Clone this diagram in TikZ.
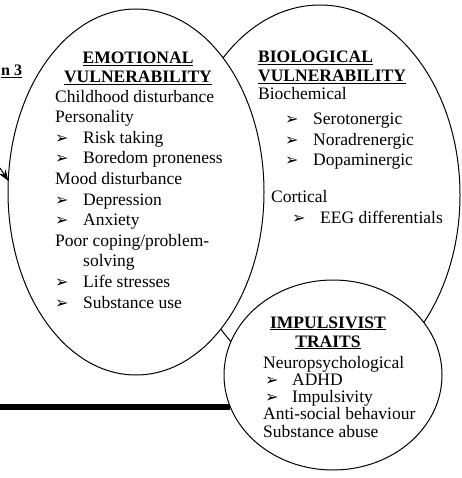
\documentclass[tikz,border=0pt]{standalone}
\usepackage{fontspec}
\setmainfont{Liberation Serif}
\newfontfamily\dingfont{DejaVu Sans}
\usetikzlibrary{shapes.geometric,arrows.meta}

% pointer bullet for the lists
\newcommand{\ptr}{{\dingfont\fontsize{16}{16}\selectfont ➢}}
\newcommand{\itm}[1]{\makebox[28pt][l]{\ptr}#1}

\begin{document}
\begin{tikzpicture}[x=1pt, y=-1pt, >={Stealth[length=11pt,width=8pt]},
    blob/.style={ellipse, draw, line width=1pt, fill=white, inner sep=0pt, outer sep=0pt},
    head/.style={font=\bfseries\fontsize{17.5}{19}\selectfont, inner sep=0pt, anchor=base},
    body/.style={font=\fontsize{17.5}{20.6}\selectfont, align=left, inner sep=0pt, anchor=base west}]
    \useasboundingbox (0,0) rectangle (461,478);

    % 1. three ellipses (later ones cover earlier ones)
    \node[blob, minimum width=280, minimum height=380] (bioE) at (320,195) {};
    \node[blob, minimum width=256, minimum height=366] (emoE) at (136,192) {};
    \node[blob, minimum width=218, minimum height=190] (impE) at (333,375) {};

    % 2. incoming arrow and thick bar
    \coordinate (arrS) at (0,168);
    \draw[->, line width=1pt] (arrS) -- (emoE.175);
    \coordinate (barW) at (0,407);
    \draw[line width=6pt] (barW) -- (barW -| impE.197);
    \node[head, font=\bfseries\fontsize{16}{16}\selectfont, anchor=base west] (secT) at (1,76) {\underline{n 3}};

    % 3. emotional vulnerability (nodes sit on their last baseline)
    \node[head, align=center] (emoH) at (138,83) {\underline{EMOTIONAL}\\\underline{VULNERABILITY}};
    \node[body] (emoB) at (55,308) {Childhood disturbance\\Personality\\\itm{Risk taking}\\
        \itm{Boredom proneness}\\Mood disturbance\\\itm{Depression}\\\itm{Anxiety}\\
        Poor coping/problem-\\\hspace*{28pt}solving\\\itm{Life stresses}\\\itm{Substance use}};

    % 4. biological vulnerability
    \node[head, align=left, anchor=base west] (bioH) at (258,82) {\underline{BIOLOGICAL}\\\underline{VULNERABILITY}};
    \node[body] (bioB) at (258,223) {Biochemical\\[4.4pt]
        \hspace*{27pt}\itm{Serotonergic}\\\hspace*{27pt}\itm{Noradrenergic}\\\hspace*{27pt}\itm{Dopaminergic}\\[16pt]
        \hspace*{13pt}Cortical\\\hspace*{34pt}\itm{EEG differentials}};

    % 5. impulsivist traits
    \node[head, align=center] (impH) at (328,347) {\underline{IMPULSIVIST}\\\underline{TRAITS}};
    \node[body, font=\fontsize{17.5}{17.25}\selectfont] (impB) at (263,437) {Neuropsychological\\
        \hspace*{2pt}\makebox[27pt][l]{\ptr}ADHD\\
        \hspace*{2pt}\makebox[27pt][l]{\ptr}Impulsivity\\
        Anti-social behaviour\\Substance abuse};
\end{tikzpicture}
\end{document}
